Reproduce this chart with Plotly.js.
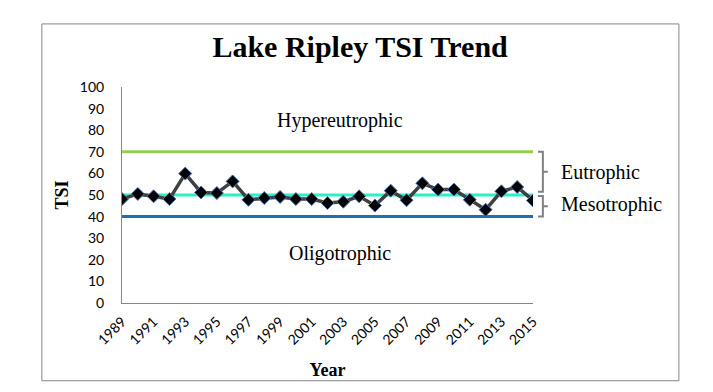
<!DOCTYPE html>
<html>
<head>
<meta charset="utf-8">
<script src="https://cdn.plot.ly/plotly-3.0.1.min.js"></script>
<style>
  body { margin: 0; background: #ffffff; }
  #chart { width: 713px; height: 392px; }
</style>
</head>
<body>
<div id="chart"></div>
<script>
const years = [
  "1989", "1990", "1991", "1992", "1993", "1994", "1995", "1996", "1997",
  "1998", "1999", "2000", "2001", "2002", "2003", "2004", "2005", "2006",
  "2007", "2008", "2009", "2010", "2011", "2012", "2013", "2014", "2015",
];
const tsi = [
  48.1, 50.5, 49.4, 48.1, 59.9, 51.2, 50.9, 56.3, 47.8,
  48.6, 49.1, 48.1, 48.1, 46.3, 46.9, 49.4, 45.1, 52.0,
  47.6, 55.4, 52.5, 52.5, 47.8, 43.2, 51.7, 53.7, 47.5,
];
const tickYears = years.filter((y, i) => i % 2 === 0);
const hyperLevel = 70;
const eutroLevel = 50;
const mesoLevel = 40;

function flat(v) {
  return years.map(() => v);
}

var serif = "Liberation Serif, Times New Roman, serif";

var traces = [
  {
    x: years, y: flat(hyperLevel), mode: "lines",
    line: { color: "#92d050", width: 3 }, hoverinfo: "skip",
  },
  {
    x: years, y: flat(eutroLevel), mode: "lines",
    line: { color: "#2af0c8", width: 3 }, hoverinfo: "skip",
  },
  {
    x: years, y: flat(mesoLevel), mode: "lines",
    line: { color: "#1f6fb4", width: 3 }, hoverinfo: "skip",
  },
  {
    x: years, y: tsi, mode: "lines+markers",
    line: { color: "#404040", width: 3.5 },
    marker: { symbol: "diamond", size: 10, color: "#000000",
      line: { color: "#4a76b8", width: 1 } },
  },
];

// curly brace drawn as path, x in paper, y in data units
function brace(top, bottom) {
  const mid = (top + bottom) / 2;
  const x0 = 1.012, x1 = 1.024, x2 = 1.036;
  return {
    type: "path", xref: "paper", yref: "y",
    path: `M ${x0} ${top} L ${x1} ${top} L ${x1} ${mid} L ${x2} ${mid} ` +
      `M ${x1} ${mid} L ${x1} ${bottom} L ${x0} ${bottom}`,
    line: { color: "#808080", width: 2 },
  };
}

var layout = {
  width: 713,
  height: 392,
  margin: { l: 122, r: 180, t: 87, b: 89 },
  paper_bgcolor: "#ffffff",
  plot_bgcolor: "#ffffff",
  showlegend: false,
  title: {
    text: "<b>Lake Ripley TSI Trend</b>",
    font: { family: serif, size: 30, color: "#000000" },
    x: 0.505, xanchor: "center", y: 0.882, yanchor: "middle",
  },
  xaxis: {
    type: "category",
    range: [0, 26],
    tickmode: "array",
    tickvals: tickYears,
    ticktext: tickYears,
    tickangle: -45,
    ticks: "",
    ticklabelstandoff: 4,
    showgrid: false,
    showline: true,
    linecolor: "#868686",
    linewidth: 1,
    tickfont: { family: "Lato, sans-serif", size: 14, color: "#000000" },
    title: { text: "<b>Year</b>", font: { family: serif, size: 18, color: "#000000" }, standoff: 16 },
  },
  yaxis: {
    range: [0, 100],
    dtick: 10,
    ticks: "",
    ticklabelstandoff: 14,
    showgrid: false,
    zeroline: false,
    showline: true,
    linecolor: "#868686",
    linewidth: 1,
    tickfont: { family: "Lato, sans-serif", size: 14, color: "#000000" },
    title: { text: "<b>TSI</b>", font: { family: serif, size: 18, color: "#000000" }, standoff: 6 },
  },
  shapes: [
    {
      type: "rect", xref: "paper", yref: "paper",
      x0: -0.195, x1: 1.355, y0: -0.36, y1: 1.292,
      line: { color: "#868686", width: 1 },
    },
    brace(70, 51.5),
    brace(49.5, 40),
  ],
  annotations: [
    { text: "Hypereutrophic", xref: "paper", yref: "y", x: 0.53, y: 84.7,
      showarrow: false, font: { family: serif, size: 20, color: "#000000" } },
    { text: "Oligotrophic", xref: "paper", yref: "y", x: 0.53, y: 23.1,
      showarrow: false, font: { family: serif, size: 20, color: "#000000" } },
    { text: "Eutrophic", xref: "paper", yref: "y", x: 1.063, y: 60.6, xanchor: "left",
      showarrow: false, font: { family: serif, size: 20, color: "#000000" } },
    { text: "Mesotrophic", xref: "paper", yref: "y", x: 1.063, y: 45.4, xanchor: "left",
      showarrow: false, font: { family: serif, size: 20, color: "#000000" } },
  ],
};

Plotly.newPlot("chart", traces, layout, { displayModeBar: false, staticPlot: true });
</script>
</body>
</html>
